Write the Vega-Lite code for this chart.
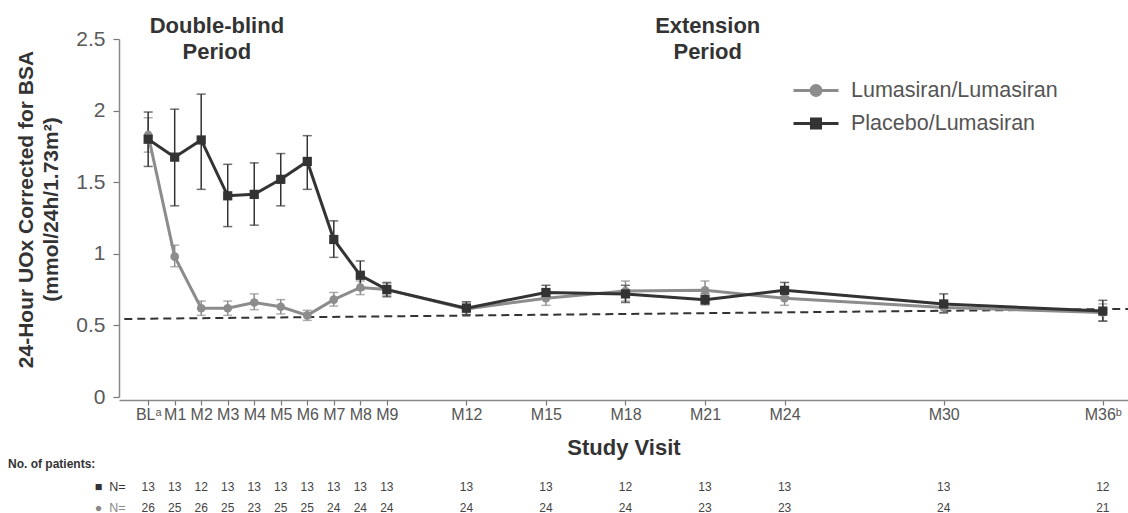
{
  "$schema": "https://vega.github.io/schema/vega-lite/v6.json",
  "autosize": {"type": "pad"},
  "padding": {"left": 8, "top": 15, "right": 0, "bottom": 0},
  "background": "white",
  "bounds": "flush",
  "spacing": 79,
  "config": {"font": "Liberation Sans", "view": {"stroke": null}},
  "datasets": {
    "mean": [
      {"group": "Lumasiran/Lumasiran", "month": 0, "value": 1.83, "lo": 1.71, "hi": 1.95, "n": 26},
      {"group": "Lumasiran/Lumasiran", "month": 1, "value": 0.98, "lo": 0.91, "hi": 1.06, "n": 25},
      {"group": "Lumasiran/Lumasiran", "month": 2, "value": 0.62, "lo": 0.57, "hi": 0.67, "n": 26},
      {"group": "Lumasiran/Lumasiran", "month": 3, "value": 0.62, "lo": 0.57, "hi": 0.67, "n": 25},
      {"group": "Lumasiran/Lumasiran", "month": 4, "value": 0.66, "lo": 0.61, "hi": 0.72, "n": 23},
      {"group": "Lumasiran/Lumasiran", "month": 5, "value": 0.63, "lo": 0.58, "hi": 0.68, "n": 25},
      {"group": "Lumasiran/Lumasiran", "month": 6, "value": 0.57, "lo": 0.535, "hi": 0.605, "n": 25},
      {"group": "Lumasiran/Lumasiran", "month": 7, "value": 0.68, "lo": 0.635, "hi": 0.73, "n": 24},
      {"group": "Lumasiran/Lumasiran", "month": 8, "value": 0.765, "lo": 0.715, "hi": 0.81, "n": 24},
      {"group": "Lumasiran/Lumasiran", "month": 9, "value": 0.75, "lo": 0.71, "hi": 0.79, "n": 24},
      {"group": "Lumasiran/Lumasiran", "month": 12, "value": 0.615, "lo": 0.575, "hi": 0.655, "n": 24},
      {"group": "Lumasiran/Lumasiran", "month": 15, "value": 0.69, "lo": 0.64, "hi": 0.74, "n": 24},
      {"group": "Lumasiran/Lumasiran", "month": 18, "value": 0.74, "lo": 0.67, "hi": 0.81, "n": 24},
      {"group": "Lumasiran/Lumasiran", "month": 21, "value": 0.745, "lo": 0.68, "hi": 0.81, "n": 23},
      {"group": "Lumasiran/Lumasiran", "month": 24, "value": 0.69, "lo": 0.64, "hi": 0.74, "n": 23},
      {"group": "Lumasiran/Lumasiran", "month": 30, "value": 0.625, "lo": 0.585, "hi": 0.665, "n": 24},
      {"group": "Lumasiran/Lumasiran", "month": 36, "value": 0.59, "lo": 0.53, "hi": 0.65, "n": 21},
      {"group": "Placebo/Lumasiran", "month": 0, "value": 1.8, "lo": 1.61, "hi": 1.99, "n": 13},
      {"group": "Placebo/Lumasiran", "month": 1, "value": 1.675, "lo": 1.335, "hi": 2.01, "n": 13},
      {"group": "Placebo/Lumasiran", "month": 2, "value": 1.795, "lo": 1.45, "hi": 2.115, "n": 12},
      {"group": "Placebo/Lumasiran", "month": 3, "value": 1.405, "lo": 1.19, "hi": 1.625, "n": 13},
      {"group": "Placebo/Lumasiran", "month": 4, "value": 1.415, "lo": 1.2, "hi": 1.635, "n": 13},
      {"group": "Placebo/Lumasiran", "month": 5, "value": 1.52, "lo": 1.335, "hi": 1.7, "n": 13},
      {"group": "Placebo/Lumasiran", "month": 6, "value": 1.645, "lo": 1.45, "hi": 1.825, "n": 13},
      {"group": "Placebo/Lumasiran", "month": 7, "value": 1.1, "lo": 0.975, "hi": 1.23, "n": 13},
      {"group": "Placebo/Lumasiran", "month": 8, "value": 0.85, "lo": 0.75, "hi": 0.95, "n": 13},
      {"group": "Placebo/Lumasiran", "month": 9, "value": 0.75, "lo": 0.7, "hi": 0.8, "n": 13},
      {"group": "Placebo/Lumasiran", "month": 12, "value": 0.62, "lo": 0.575, "hi": 0.665, "n": 13},
      {"group": "Placebo/Lumasiran", "month": 15, "value": 0.73, "lo": 0.69, "hi": 0.78, "n": 13},
      {"group": "Placebo/Lumasiran", "month": 18, "value": 0.72, "lo": 0.66, "hi": 0.78, "n": 12},
      {"group": "Placebo/Lumasiran", "month": 21, "value": 0.68, "lo": 0.645, "hi": 0.72, "n": 13},
      {"group": "Placebo/Lumasiran", "month": 24, "value": 0.745, "lo": 0.7, "hi": 0.8, "n": 13},
      {"group": "Placebo/Lumasiran", "month": 30, "value": 0.65, "lo": 0.59, "hi": 0.72, "n": 13},
      {"group": "Placebo/Lumasiran", "month": 36, "value": 0.6, "lo": 0.53, "hi": 0.675, "n": 12}
    ],
    "trend": [
      {"month": -0.9, "value": 0.545},
      {"month": 36.95, "value": 0.615}
    ],
    "periods": [
      {"month": 2.59, "value": 2.54, "label": "Double-blind\nPeriod"},
      {"month": 21.1, "value": 2.54, "label": "Extension\nPeriod"}
    ]
  },
  "vconcat": [
    {
      "width": 1009,
      "height": 358,
      "layer": [
        {
          "mark": {"type": "rule", "color": "#b5b5b5", "strokeDash": [4, 3], "strokeWidth": 1},
          "encoding": {
            "x": {"datum": 6, "type": "quantitative", "title": "Study Visit", "scale": {"domain": [-1.1, 36.95], "nice": false, "zero": false}}
          }
        },
        {
          "data": {"name": "trend"},
          "mark": {"type": "line", "color": "#333333", "strokeDash": [8, 5], "strokeWidth": 2},
          "encoding": {
            "x": {"field": "month", "type": "quantitative", "title": "Study Visit", "scale": {"domain": [-1.1, 36.95], "nice": false, "zero": false}},
            "y": {"field": "value", "type": "quantitative", "title": ["24-Hour UOx Corrected for BSA", "(mmol/24h/1.73m²)"], "scale": {"domain": [0, 2.5], "nice": false, "zero": false}}
          }
        },
        {
          "data": {"name": "mean"},
          "mark": {"type": "errorbar", "ticks": {"size": 9}, "thickness": 1.5},
          "encoding": {
            "x": {"field": "month", "type": "quantitative", "title": "Study Visit", "scale": {"domain": [-1.1, 36.95], "nice": false, "zero": false}},
            "y": {"field": "lo", "type": "quantitative", "title": ["24-Hour UOx Corrected for BSA", "(mmol/24h/1.73m²)"], "scale": {"domain": [0, 2.5], "nice": false, "zero": false}},
            "y2": {"field": "hi"},
            "color": {"field": "group", "type": "nominal", "scale": {"domain": ["Lumasiran/Lumasiran", "Placebo/Lumasiran"], "range": ["#8c8c8c", "#333333"]}}
          }
        },
        {
          "data": {"name": "mean"},
          "mark": {"type": "line", "strokeWidth": 3},
          "encoding": {
            "x": {
              "field": "month", "type": "quantitative", "title": "Study Visit",
              "scale": {"domain": [-1.1, 36.95], "nice": false, "zero": false},
              "axis": {
                "values": [0, 1, 2, 3, 4, 5, 6, 7, 8, 9, 12, 15, 18, 21, 24, 30, 36],
                "labelExpr": "datum.value == 0 ? 'BLᵃ' : datum.value == 36 ? 'M36ᵇ' : 'M' + datum.value",
                "labelOverlap": false, "labelFlush": false, "labelFontSize": 16, "labelColor": "#555555", "labelPadding": 1,
                "tickColor": "#777777", "tickSize": 5, "tickWidth": 1.2, "domainColor": "#888888", "domainWidth": 1.5,
                "titleFontSize": 22, "titleFontWeight": "bold", "titleColor": "#333333", "titlePadding": 15,
                "grid": false, "offset": 3
              }
            },
            "y": {
              "field": "value", "type": "quantitative", "title": ["24-Hour UOx Corrected for BSA", "(mmol/24h/1.73m²)"],
              "scale": {"domain": [0, 2.5], "nice": false, "zero": false},
              "axis": {
                "values": [0, 0.5, 1, 1.5, 2, 2.5], "format": "~g",
                "labelFontSize": 21, "labelColor": "#5a5a5a", "labelPadding": 8,
                "tickColor": "#777777", "tickSize": 6, "tickWidth": 1.2, "domainColor": "#888888", "domainWidth": 1.5,
                "titleFontSize": 21, "titleFontWeight": "bold", "titleColor": "#333333", "titleLineHeight": 25, "titlePadding": 14,
                "titleY": 170, "grid": false
              }
            },
            "color": {
              "field": "group", "type": "nominal",
              "scale": {"domain": ["Lumasiran/Lumasiran", "Placebo/Lumasiran"], "range": ["#8c8c8c", "#333333"]},
              "legend": {
                "title": null, "orient": "none", "legendX": 685.5, "legendY": 40, "padding": 0,
                "symbolSize": 400, "symbolStrokeWidth": 3, "labelOffset": 23.5, "rowPadding": 10,
                "labelFontSize": 21.5, "labelColor": "#555555", "labelFont": "Liberation Sans", "labelLimit": 400,
                "encode": {
                  "symbols": {
                    "update": {
                      "shape": {"signal": "datum.value === 'Lumasiran/Lumasiran' ? 'M-2.25,0H2.25M0.5,0A0.5,0.5,0,1,1,-0.5,0A0.5,0.5,0,1,1,0.5,0Z' : 'M-2.25,0H2.25M-0.45,-0.45H0.45V0.45H-0.45Z'"},
                      "fill": {"scale": "color", "field": "value"},
                      "stroke": {"scale": "color", "field": "value"},
                      "strokeWidth": {"value": 3},
                      "opacity": {"value": 1}
                    }
                  }
                }
              }
            }
          }
        },
        {
          "data": {"name": "mean"},
          "mark": {"type": "point", "filled": true, "opacity": 1},
          "encoding": {
            "x": {"field": "month", "type": "quantitative", "title": "Study Visit", "scale": {"domain": [-1.1, 36.95], "nice": false, "zero": false}},
            "y": {"field": "value", "type": "quantitative", "title": ["24-Hour UOx Corrected for BSA", "(mmol/24h/1.73m²)"], "scale": {"domain": [0, 2.5], "nice": false, "zero": false}},
            "color": {"field": "group", "type": "nominal", "scale": {"domain": ["Lumasiran/Lumasiran", "Placebo/Lumasiran"], "range": ["#8c8c8c", "#333333"]}},
            "shape": {"field": "group", "type": "nominal", "scale": {"domain": ["Lumasiran/Lumasiran", "Placebo/Lumasiran"], "range": ["circle", "square"]}, "legend": null},
            "size": {"field": "group", "type": "nominal", "scale": {"domain": ["Lumasiran/Lumasiran", "Placebo/Lumasiran"], "range": [75, 85]}, "legend": null}
          }
        },
        {
          "data": {"name": "periods"},
          "mark": {"type": "text", "fontSize": 22, "fontWeight": "bold", "color": "#333333", "align": "center", "baseline": "alphabetic", "lineBreak": "\n", "lineHeight": 26},
          "encoding": {
            "x": {"field": "month", "type": "quantitative", "title": "Study Visit", "scale": {"domain": [-1.1, 36.95], "nice": false, "zero": false}},
            "y": {"field": "value", "type": "quantitative", "title": ["24-Hour UOx Corrected for BSA", "(mmol/24h/1.73m²)"], "scale": {"domain": [0, 2.5], "nice": false, "zero": false}},
            "text": {"field": "label"}
          }
        }
      ]
    },
    {
      "width": 1009,
      "height": 42,
      "title": {"text": "No. of patients:", "anchor": "start", "frame": "group", "dx": -111, "fontSize": 12, "fontWeight": "bold", "color": "#333333", "offset": 5},
      "data": {"name": "mean"},
      "mark": {"type": "text", "fontSize": 12, "color": "#444444"},
      "encoding": {
        "x": {"field": "month", "type": "quantitative", "scale": {"domain": [-1.1, 36.95], "nice": false, "zero": false}, "axis": null},
        "y": {
          "field": "group", "type": "nominal",
          "scale": {"type": "point", "domain": ["Placebo/Lumasiran", "Lumasiran/Lumasiran"], "padding": 0.5},
          "axis": {
            "title": null, "domain": false, "ticks": false, "labelPadding": -6, "labelFontSize": 12.5,
            "labelExpr": "datum.value === 'Placebo/Lumasiran' ? '■\u00a0\u00a0N=' : '●\u00a0\u00a0N='",
            "labelColor": {"condition": {"test": "datum.value === 'Placebo/Lumasiran'", "value": "#333333"}, "value": "#888888"}
          }
        },
        "text": {"field": "n", "type": "quantitative"}
      }
    }
  ],
  "resolve": {"scale": {"x": "independent", "y": "independent", "color": "independent"}}
}
